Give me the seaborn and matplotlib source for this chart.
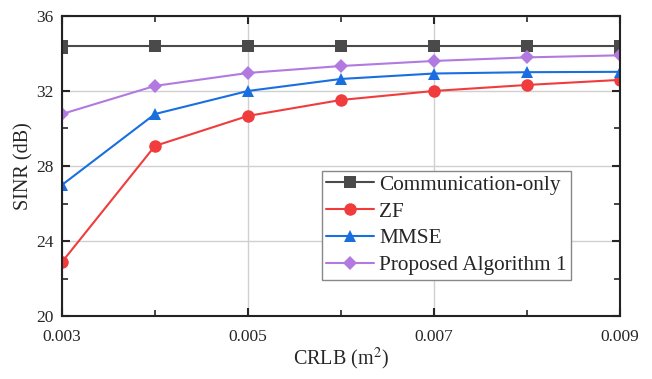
import numpy as np
import pandas as pd
import seaborn as sns
import matplotlib.pyplot as plt
from matplotlib.ticker import MultipleLocator

# datos
crlb = [0.003, 0.004, 0.005, 0.006, 0.007, 0.008, 0.009]
comm_only = [34.4, 34.4, 34.4, 34.4, 34.4, 34.4, 34.4]
zf = [22.88, 29.07, 30.67, 31.52, 32.0, 32.32, 32.59]
mmse = [26.99, 30.77, 32.0, 32.64, 32.93, 33.0, 33.02]
propuesto = [30.77, 32.27, 32.96, 33.33, 33.6, 33.79, 33.9]

nombres = ['Communication-only', 'ZF', 'MMSE', 'Proposed Algorithm 1']
series = [comm_only, zf, mmse, propuesto]

df = pd.concat([
    pd.DataFrame({'crlb': crlb, 'sinr': vals, 'metodo': nom})
    for nom, vals in zip(nombres, series)
], ignore_index=True)

sns.set_style('ticks')
plt.rcParams['font.family'] = ['Liberation Serif', 'DejaVu Serif']
plt.rcParams['mathtext.fontset'] = 'stix'

colores = {
    'Communication-only': '#4a4a4a',
    'ZF': '#f03c3c',
    'MMSE': '#1a6fe0',
    'Proposed Algorithm 1': '#b27ae0',
}
marcadores = {
    'Communication-only': 's',
    'ZF': 'o',
    'MMSE': '^',
    'Proposed Algorithm 1': 'D',
}
tamanos = {'Communication-only': 8, 'ZF': 9, 'MMSE': 9, 'Proposed Algorithm 1': 7.5}

fig, ax = plt.subplots(figsize=(6.52, 3.79), dpi=100)

for nom in nombres:
    sub = df[df['metodo'] == nom]
    sns.lineplot(data=sub, x='crlb', y='sinr', color=colores[nom],
                 marker=marcadores[nom], markersize=tamanos[nom],
                 markeredgewidth=0, linewidth=1.5, label=nom, ax=ax)

ax.set_xlim(0.003, 0.009)
ax.set_ylim(20, 36)
ax.xaxis.set_minor_locator(MultipleLocator(0.001))
ax.yaxis.set_major_locator(MultipleLocator(4))
ax.yaxis.set_minor_locator(MultipleLocator(2))
ax.set_xticks([0.003, 0.005, 0.007, 0.009])
ax.set_xticklabels(['0.003', '0.005', '0.007', '0.009'])

ax.grid(True, which='major', color='#d0d0d0', linewidth=1)
ax.tick_params(which='both', direction='in', top=True, right=True, labelsize=12.5)
ax.tick_params(which='major', length=6, width=1.5)
ax.tick_params(which='minor', length=4, width=1.2)
ax.tick_params(axis='x', which='major', pad=9)
ax.tick_params(axis='y', which='major', pad=6)
for s in ax.spines.values():
    s.set_linewidth(1.5)
    s.set_color('#222222')

ax.set_xlabel('CRLB (m$^2$)', fontsize=14.5, labelpad=1)
ax.set_ylabel('SINR (dB)', fontsize=14.5, labelpad=2)

leg = ax.legend(loc='upper left', bbox_to_anchor=(0.466, 0.485), fontsize=15.3,
                frameon=True, fancybox=False, framealpha=1, edgecolor='#888888',
                borderpad=0.2, labelspacing=0.33, handlelength=2.25,
                handletextpad=0.25, borderaxespad=0)
leg.get_frame().set_linewidth(1)

plt.subplots_adjust(left=0.095, right=0.951, top=0.958, bottom=0.166)
fig.savefig('out.png', dpi=100)
